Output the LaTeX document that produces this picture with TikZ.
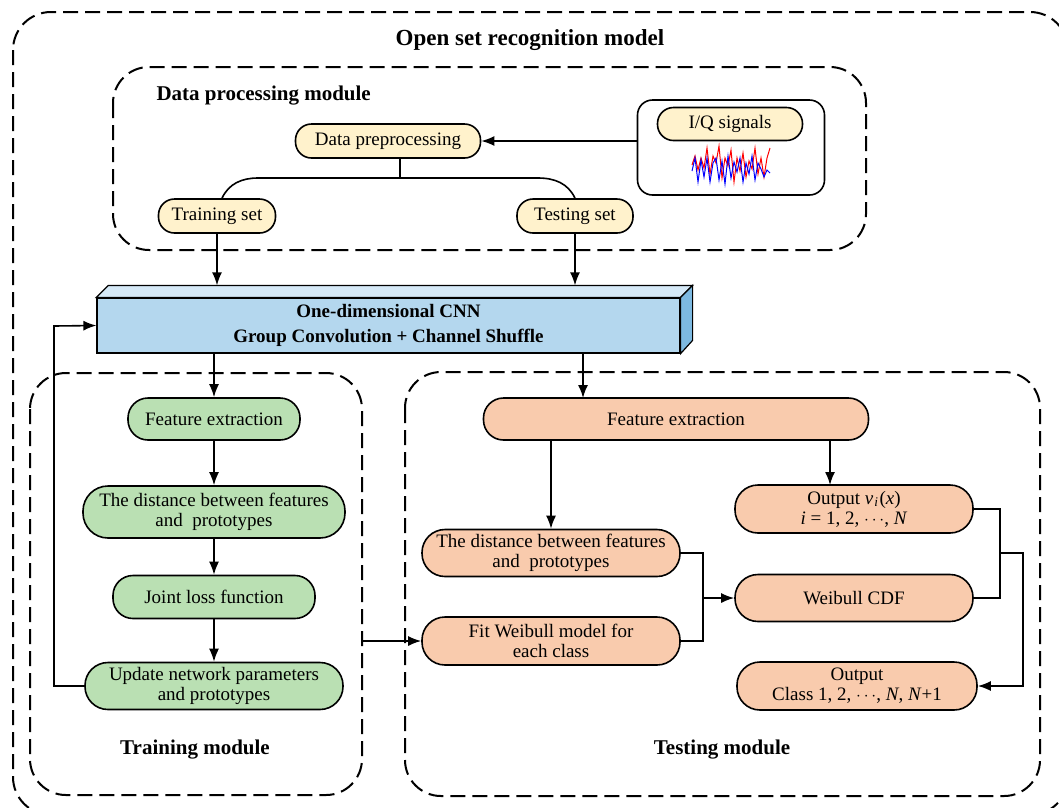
\documentclass[tikz,border=0pt]{standalone}
\usepackage{fontspec}
\setmainfont{Liberation Serif}
\usetikzlibrary{arrows.meta,calc}
\definecolor{yelfill}{RGB}{255,242,204}
\definecolor{grnfill}{RGB}{186,224,179}
\definecolor{orgfill}{RGB}{249,203,173}
\definecolor{cnnfront}{RGB}{180,215,238}
\definecolor{cnntop}{RGB}{213,233,247}
\definecolor{cnnside}{RGB}{125,185,225}
\tikzset{
  pill/.style={draw, line width=1.6pt, align=center, inner sep=0pt, minimum height=34, rounded corners=16},
  pilltwo/.style={pill, minimum height=48, rounded corners=23},
  yel/.style={fill=yelfill},
  grn/.style={fill=grnfill},
  org/.style={fill=orgfill},
  module/.style={draw, line width=2pt, dash pattern=on 15pt off 7pt, rounded corners=36},
  lbl/.style={font=\fontsize{21}{24}\selectfont\bfseries},
  link/.style={->, line width=1.6pt},
  line/.style={line width=1.6pt}
}

\begin{document}
\begin{tikzpicture}[x=1pt, y=-1pt, >={Latex[length=13pt,width=10pt]}, font=\fontsize{19}{20}\selectfont]
    \useasboundingbox (0,0) rectangle (1059,807);
    \clip (0,0) rectangle (1059,807);

    \draw[module, rounded corners=38] (13,12) rectangle (1068,815);
    \draw[module] (113,67) rectangle (866,250);
    \draw[module] (30,373) rectangle (362,795);
    \draw[module] (405,372) rectangle (1040,796);

    \node[lbl, font=\fontsize{23}{26}\selectfont\bfseries] (title) at (530,40) {Open set recognition model};
    \node[lbl, anchor=west] (dpmlbl) at (153,96) {Data processing module};
    \node[lbl] (trmlbl) at (195,750) {Training module};
    \node[lbl] (temlbl) at (722,750) {Testing module};

    \node[pill, yel, minimum width=185] (pre) at (388,141) {Data preprocessing};
    \node[draw, line width=1.6pt, rounded corners=15, minimum width=187, minimum height=95] (iq) at (731,147.5) {};
    \node[pill, yel, minimum width=145, minimum height=33] (iqlbl) at (730,124) {I/Q signals};
    \draw[red, line width=1pt] plot coordinates {(692,165) (695,156) (698,170) (701,158) (704,168) (707,148) (710,174) (713,156) (716,163) (719,146) (722,178) (725,158) (728,166) (731,150) (734,182) (737,158) (740,171) (743,153) (746,177) (749,161) (752,169) (755,148) (758,174) (761,158) (764,177) (767,158) (770,148)};
    \draw[blue, line width=1pt] plot coordinates {(692,171) (695,158) (698,182) (701,160) (704,177) (707,158) (710,182) (713,163) (716,158) (719,180) (722,161) (725,184) (728,156) (731,178) (734,162) (737,172) (740,158) (743,182) (746,163) (749,174) (752,156) (755,180) (758,163) (761,169) (764,177) (767,170) (770,173)};
    \node[pill, yel, minimum width=117] (trs) at (217,216) {Training set};
    \node[pill, yel, minimum width=116] (tes) at (575,216) {Testing set};

    \node[draw, line width=1.2pt, fill=cnnfront, minimum width=583, minimum height=55, align=center, font=\fontsize{19}{25}\selectfont\bfseries] (cnn) at (388.5,325.5) {One-dimensional CNN\\Group Convolution + Channel Shuffle};
    \draw[line width=1.2pt, fill=cnntop] (cnn.north west) -- ++(12,-12) -- ($(cnn.north east)+(12,-12)$) -- (cnn.north east) -- cycle;
    \draw[line width=1.2pt, fill=cnnside] (cnn.north east) -- ++(12,-12) -- ++(0,55) -- (cnn.south east) -- cycle;
    \coordinate (cnnback) at ($(cnn.north)+(0,-12)$);

    \node[pill, grn, minimum width=172, minimum height=42, rounded corners=20] (gfe) at (214,419) {Feature extraction};
    \node[pilltwo, grn, minimum width=262, minimum height=52, rounded corners=25] (gdist) at (214,512) {The distance between features\\and~ prototypes};
    \node[pill, grn, minimum width=202, minimum height=43, rounded corners=20] (gjl) at (214,597) {Joint loss function};
    \node[pilltwo, grn, minimum width=258, minimum height=47] (gup) at (214,686) {Update network parameters\\and prototypes};

    \node[pill, org, minimum width=385, minimum height=42, rounded corners=20] (ofe) at (676,419) {Feature extraction};
    \node[pilltwo, org, minimum width=258, minimum height=47] (odist) at (551,553) {The distance between features\\and~ prototypes};
    \node[pilltwo, org, minimum width=258] (ofit) at (551,641) {Fit Weibull model for\\each class};
    \node[pilltwo, org, minimum width=238] (oout) at (854,509) {Output \textit{v}\kern1pt\textsubscript{\textit{i}}\kern1pt(\textit{x})\\\textit{i} = 1, 2, $\cdots$, \textit{N}};
    \node[pilltwo, org, minimum width=238, minimum height=47] (ocdf) at (854,598) {Weibull CDF};
    \node[pilltwo, org, minimum width=240] (ocls) at (857,686) {Output\\Class 1, 2, $\cdots$, \textit{N}, \textit{N}+1};

    \coordinate (split) at (400,178);
    \coordinate (brL) at (258,178);
    \coordinate (brR) at (538,178);
    \draw[line] (pre.south -| split) -- (split);
    \draw[line] ([xshift=5pt]trs.north) to[out=65,in=180] (brL) -- (brR) to[out=0,in=115] (tes.north);
    \draw[link] (iq.west |- pre.east) -- (pre.east);
    \draw[link] (trs.south) -- (trs.south |- cnnback);
    \draw[link] (tes.south) -- (tes.south |- cnnback);

    \coordinate (ofin) at (583,398);
    \draw[link] (cnn.south -| gfe.north) -- (gfe.north);
    \draw[link] (cnn.south -| ofin) -- (ofin);
    \draw[link] (gfe.south) -- (gdist.north);
    \draw[link] (gdist.south) -- (gjl.north);
    \draw[link] (gjl.south) -- (gup.north);
    \coordinate (fb) at (54,326);
    \draw[link] (gup.west) -| (fb) -- (cnn.west);

    \coordinate (tr) at (362,641);
    \draw[link] (tr) -- (ofit.west);
    \coordinate (otop) at (830,485);
    \draw[link] (odist.north |- ofe.south) -- (odist.north);
    \draw[link] (otop |- ofe.south) -- (otop);
    \coordinate (mj) at (703,598);
    \draw[line] (odist.east) -| (mj) |- (ofit.east);
    \draw[link] (mj) -- (ocdf.west);
    \coordinate (rj) at (1000,553);
    \coordinate (rk) at (1023,553);
    \draw[line] (oout.east) -| (rj) |- (ocdf.east);
    \draw[link] (rj) -- (rk) |- (ocls.east);
\end{tikzpicture}
\end{document}
